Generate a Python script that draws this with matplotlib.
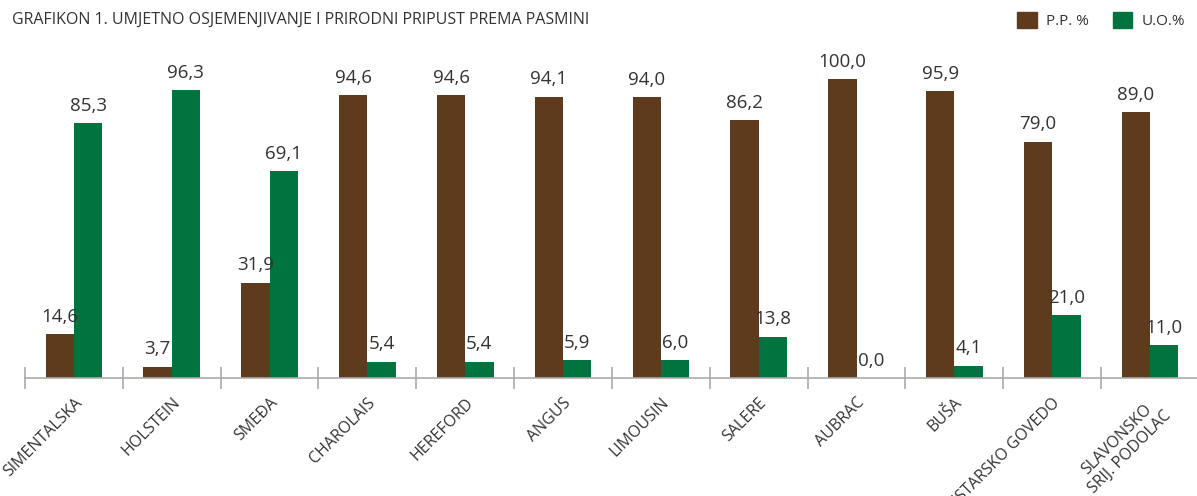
import numpy as np
import matplotlib
matplotlib.use("Agg")
import matplotlib.pyplot as plt
from matplotlib.patches import Patch

plt.rcParams["font.family"] = ["Open Sans", "DejaVu Sans"]

breeds = ["SIMENTALSKA", "HOLSTEIN", "SMEĐA", "CHAROLAIS", "HEREFORD", "ANGUS",
          "LIMOUSIN", "SALERE", "AUBRAC", "BUŠA", "ISTARSKO GOVEDO",
          "SLAVONSKO\nSRIJ. PODOLAC"]
pp = [14.6, 3.7, 31.9, 94.6, 94.6, 94.1, 94.0, 86.2, 100.0, 95.9, 79.0, 89.0]
uo = [85.3, 96.3, 69.1, 5.4, 5.4, 5.9, 6.0, 13.8, 0.0, 4.1, 21.0, 11.0]

C_PP = "#5f3b1e"
C_UO = "#00733e"
TXT = "#333333"
GRID = "#aaaaaa"

fig = plt.figure(figsize=(11.97, 4.96), dpi=100)
ax = fig.add_axes([25 / 1197, 118 / 496, 1174 / 1197, 318 / 496])

x = np.arange(len(breeds))
w = 0.29
b1 = ax.bar(x - w / 2, pp, w, color=C_PP, label="P.P. %")
b2 = ax.bar(x + w / 2, uo, w, color=C_UO, label="U.O.%")

for bars, vals in ((b1, pp), (b2, uo)):
    for r, v in zip(bars, vals):
        ax.annotate(("%.1f" % v).replace(".", ","),
                    (r.get_x() + r.get_width() / 2, v),
                    xytext=(0, 9), textcoords="offset points",
                    ha="center", va="baseline", fontsize=13.5, color=TXT)

ax.set_xlim(-0.5, len(breeds) - 0.5)
ax.set_ylim(0, 106.4)

for s in ("top", "right", "left"):
    ax.spines[s].set_visible(False)
ax.spines["bottom"].set_color(GRID)
ax.spines["bottom"].set_linewidth(1.2)
ax.set_yticks([])

ax.set_xticks(x)
ax.set_xticklabels(breeds, rotation=45, ha="right", rotation_mode="anchor",
                   fontsize=11.5, color=TXT, multialignment="center")
ax.tick_params(axis="x", which="major", length=0, pad=12)
ax.set_xticks(x - 0.5, minor=True)
ax.tick_params(axis="x", which="minor", length=16, direction="inout",
               color=GRID, width=1.2)

fig.text(12 / 1197, 1 - 20 / 496, "GRAFIKON 1. UMJETNO OSJEMENJIVANJE I PRIRODNI PRIPUST PREMA PASMINI",
         fontsize=11.5, color=TXT, va="center", ha="left")

handles = [Patch(color=C_PP, label="P.P. %"), Patch(color=C_UO, label="U.O.%")]
fig.legend(handles=handles, loc="upper right", bbox_to_anchor=(1.0, 1.0), ncol=2,
           frameon=False, fontsize=11, handlelength=1.25, handleheight=1.25,
           handletextpad=0.6, columnspacing=1.6, borderaxespad=0.4,
           labelcolor=TXT)

fig.savefig("out.png", dpi=100)
